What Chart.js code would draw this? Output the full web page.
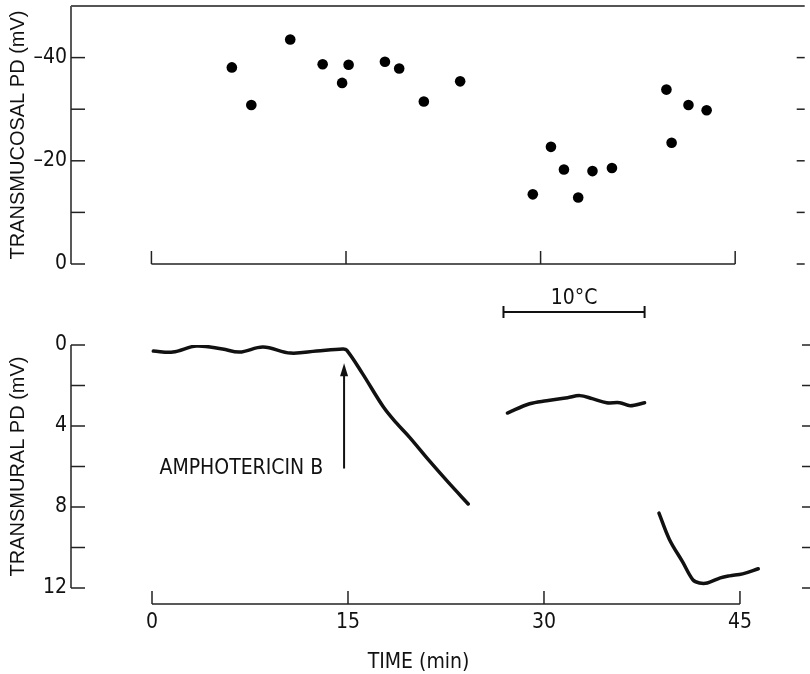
<!DOCTYPE html>
<html>
<head>
<meta charset="utf-8">
<script src="https://cdn.jsdelivr.net/npm/chart.js@4.4.1/dist/chart.umd.min.js"></script>
<style>
  html, body { margin: 0; padding: 0; background: #fff; }
  #wrap { position: relative; width: 810px; height: 674px; }
  #wrap canvas { position: absolute; left: 0; top: 0; }
</style>
</head>
<body>
<div id="wrap">
  <canvas id="mucosal" width="810" height="674"></canvas>
  <canvas id="mural" width="810" height="674"></canvas>
</div>
<script>
// time axis (min), shared by both panels
const timeTicks = [0, 15, 30, 45];

// upper panel: transmucosal PD, single readings (mV)
const mucosalTime = [6.2, 7.7, 10.7, 13.2, 14.7, 15.2, 18.0, 19.1, 21.0, 23.8,
                     29.4, 30.8, 31.8, 32.9, 34.0, 35.5, 39.7, 40.1, 41.4, 42.8];
const mucosalPD = [-38.1, -30.8, -43.5, -38.7, -35.1, -38.6, -39.2, -37.9, -31.5, -35.4,
                   -13.5, -22.7, -18.3, -12.9, -18.0, -18.6, -33.8, -23.5, -30.8, -29.8];
const mucosalTicks = [-40, -30, -20, -10, 0];

// lower panel: transmural PD trace, recorded in three pieces (mV)
const muralTimeA = [0.1, 1.6, 3.4, 5.4, 6.7, 8.5, 10.6, 12.6, 14.6, 14.9,
                    16.1, 17.7, 18.7, 19.7, 21.2, 22.7, 24.2];
const muralPDA = [0.3, 0.35, 0.05, 0.2, 0.35, 0.1, 0.4, 0.3, 0.2, 0.25,
                  1.4, 3.05, 3.85, 4.55, 5.7, 6.8, 7.85];
const muralTimeB = [27.2, 28.9, 30.2, 31.8, 32.75, 33.7, 34.8, 35.8, 36.6, 37.7];
const muralPDB = [3.36, 2.9, 2.75, 2.6, 2.5, 2.65, 2.85, 2.85, 3.0, 2.85];
const muralTimeC = [38.8, 39.6, 40.6, 41.4, 41.9, 42.5, 43.5, 44.2, 45.2, 46.4];
const muralPDC = [8.3, 9.6, 10.7, 11.6, 11.75, 11.75, 11.5, 11.4, 11.3, 11.05];
const muralTicks = [0, 2, 4, 6, 8, 10, 12];

// annotations
const drugTime = 14.7;           // amphotericin B added
const drugArrow = [6.1, 0.9];    // arrow tail / tip (mV)
const coldStart = 26.9, coldEnd = 37.7;  // 10°C period

const NARROW = "'Liberation Sans Narrow', 'DejaVu Sans Condensed', sans-serif";
const SANS = "'Liberation Sans', Arial, sans-serif";
Chart.defaults.font.family = NARROW;
Chart.defaults.color = '#111';

const pairs = (xs, ys) => xs.map((v, i) => ({ x: v, y: ys[i] }));
const dash = v => (v < 0 ? '\u2013' + (-v) : String(v));

function xAxis(show) {
  return {
    type: 'linear', min: -6.2, max: 50.36, display: show,
    afterBuildTicks: s => { s.ticks = timeTicks.map(v => ({ value: v })); },
    afterFit: s => { s.height = show ? 86 : 0; },
    grid: { display: false, drawTicks: false },
    border: { display: false },
    ticks: { padding: 22, autoSkip: false, maxRotation: 0, font: { size: 21 } }
  };
}

function yAxis(min, max, ticks, every, title) {
  return {
    type: 'linear', min, max, reverse: true,
    afterBuildTicks: s => { s.ticks = ticks.map(v => ({ value: v })); },
    // fixed width, and no extra room for the end labels
    afterFit: s => { s.width = 71; s.paddingTop = 0; s.paddingBottom = 0; },
    grid: { display: false, drawTicks: false },
    border: { display: false },
    ticks: { padding: 4, autoSkip: false, font: { size: 21 },
             callback: v => (v % every === 0 ? dash(v) : '') },
    title: { display: true, text: title, font: { family: SANS, size: 20 },
             padding: { top: 6, bottom: 0 } }
  };
}

// axis lines and inward ticks, drawn the way the figure does it
function frame(cfg) {
  return {
    id: 'frame',
    afterDraw(chart) {
      const { ctx, chartArea: a, scales: { x, y } } = chart;
      const seg = (x1, y1, x2, y2) => { ctx.beginPath(); ctx.moveTo(x1, y1); ctx.lineTo(x2, y2); ctx.stroke(); };
      ctx.save();
      ctx.strokeStyle = '#222';
      ctx.lineWidth = 1.5;
      seg(a.left, a.top, a.left, a.bottom);
      y.ticks.forEach(t => {
        const py = y.getPixelForValue(t.value);
        seg(a.left, py, a.left + 14, py);
        seg(a.right - 8, py, a.right, py);
      });
      const ay = a.bottom + cfg.axisGap;
      seg(x.getPixelForValue(timeTicks[0]), ay, x.getPixelForValue(timeTicks[timeTicks.length - 1]), ay);
      timeTicks.forEach(v => {
        const px = x.getPixelForValue(v);
        seg(px, ay, px, ay - 13);
      });
      if (cfg.after) cfg.after(chart, seg);
      ctx.restore();
    }
  };
}

const common = {
  responsive: false, animation: false, devicePixelRatio: 1, events: [],
  plugins: { legend: { display: false }, tooltip: { enabled: false } }
};

new Chart(document.getElementById('mucosal'), {
  type: 'scatter',
  data: { datasets: [{ data: pairs(mucosalTime, mucosalPD), pointRadius: 5.3,
                       backgroundColor: '#000', borderWidth: 0 }] },
  options: Object.assign({}, common, {
    layout: { padding: { top: 6, bottom: 410, left: 0, right: 0 } },
    scales: { x: xAxis(false), y: yAxis(-50, 0, mucosalTicks, 20, 'TRANSMUCOSAL PD (mV)') }
  }),
  plugins: [frame({
    axisGap: 0,
    after(chart, seg) {
      const a = chart.chartArea, ctx = chart.ctx;
      ctx.strokeStyle = '#555';
      ctx.lineWidth = 2;
      seg(a.left, a.top, a.right, a.top);
    }
  })]
});

const trace = (xs, ys) => ({
  data: pairs(xs, ys), borderColor: '#111', borderWidth: 3.5, pointRadius: 0,
  tension: 0.35, borderCapStyle: 'round', borderJoinStyle: 'round', fill: false
});

new Chart(document.getElementById('mural'), {
  type: 'line',
  data: { datasets: [trace(muralTimeA, muralPDA), trace(muralTimeB, muralPDB), trace(muralTimeC, muralPDC)] },
  options: Object.assign({}, common, {
    layout: { padding: { top: 345, bottom: 0, left: 0, right: 0 } },
    scales: { x: xAxis(true), y: yAxis(0, 12, muralTicks, 4, 'TRANSMURAL PD (mV)') }
  }),
  plugins: [frame({
    axisGap: 16,
    after(chart, seg) {
      const { ctx, chartArea: a, scales: { x, y } } = chart;
      ctx.strokeStyle = '#111';
      ctx.fillStyle = '#111';
      // amphotericin B arrow
      const ax = x.getPixelForValue(drugTime);
      const tail = y.getPixelForValue(drugArrow[0]), tip = y.getPixelForValue(drugArrow[1]);
      ctx.lineWidth = 2;
      seg(ax, tail, ax, tip + 8);
      ctx.beginPath();
      ctx.moveTo(ax, tip); ctx.lineTo(ax - 4, tip + 13); ctx.lineTo(ax + 4, tip + 13);
      ctx.closePath(); ctx.fill();
      ctx.font = '21px ' + NARROW;
      ctx.textAlign = 'right';
      ctx.textBaseline = 'middle';
      ctx.fillText('AMPHOTERICIN B', x.getPixelForValue(13.1), y.getPixelForValue(6.12));
      // 10°C bar
      const b1 = x.getPixelForValue(coldStart), b2 = x.getPixelForValue(coldEnd);
      const by = y.getPixelForValue(-1.63);
      seg(b1, by, b2, by);
      seg(b1, by - 6, b1, by + 6);
      seg(b2, by - 6, b2, by + 6);
      ctx.font = '21px ' + NARROW;
      ctx.textAlign = 'center';
      ctx.textBaseline = 'alphabetic';
      ctx.fillText('10\u00B0C', (b1 + b2) / 2, by - 8);
      // time axis title
      ctx.font = '21px ' + NARROW;
      ctx.textBaseline = 'middle';
      ctx.fillText('TIME (min)', x.getPixelForValue(20.4), a.bottom + 75);
    }
  })]
});
</script>
</body>
</html>
